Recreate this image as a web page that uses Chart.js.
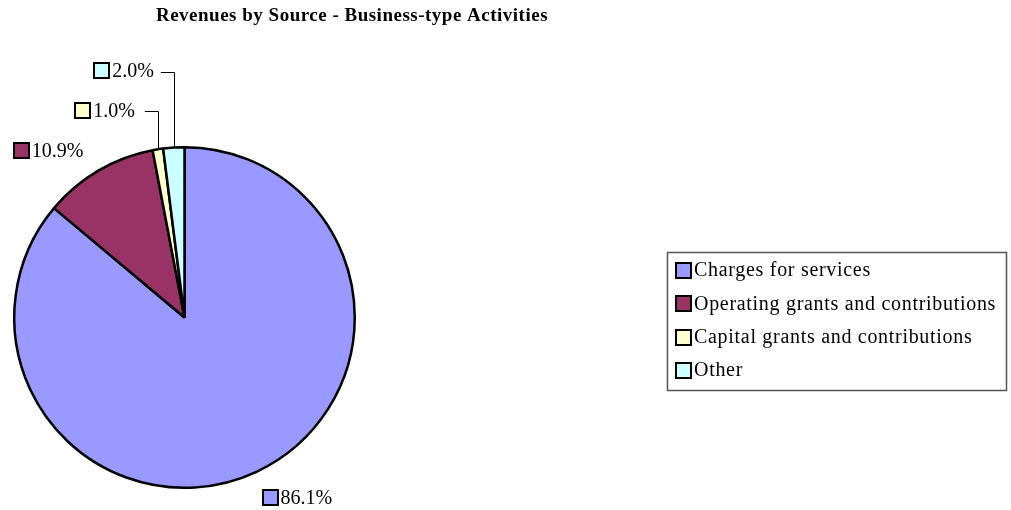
<!DOCTYPE html>
<html>
<head>
<meta charset="utf-8">
<script src="https://cdn.jsdelivr.net/npm/chart.js@4/dist/chart.umd.min.js"></script>
<style>
  body { margin: 0; background: #fff; }
  canvas { display: block; }
</style>
</head>
<body>
<canvas id="revChart" width="1011" height="510"></canvas>
<script>
// chart data
const categories = ['Charges for services', 'Operating grants and contributions', 'Capital grants and contributions', 'Other'];
const shares = [86.1, 10.9, 1.0, 2.0];
const sliceColors = ['#9999FF', '#993366', '#FFFFCC', '#CCFFFF'];
const chartTitle = 'Revenues by Source - Business-type Activities';

// where each percent label sits relative to the rim point of its slice
// side: which side of the anchor the label goes, leader: how far up the leader line runs
const labelLayout = [
    { side: 'right', dx: 6, dy: 26 },
    { side: 'left', dx: -15, dy: -20 },
    { side: 'left', leader: 38, run: 13, gap: 10 },
    { side: 'left', leader: 76, run: 13, gap: 7 }
];

const FONT = '"Liberation Serif", "Times New Roman", serif';

function drawSwatch(ctx, x, y, size, color) {
    ctx.fillStyle = color;
    ctx.fillRect(x, y, size, size);
    ctx.lineWidth = 2;
    ctx.strokeStyle = '#000';
    ctx.strokeRect(x, y, size, size);
}

const decorPlugin = {
    id: 'decor',
    afterDraw(chart) {
        const ctx = chart.ctx;
        ctx.save();

        // title
        ctx.font = 'bold 19px ' + FONT;
        ctx.letterSpacing = '0.5px';
        ctx.fillStyle = '#000';
        ctx.textAlign = 'center';
        ctx.textBaseline = 'middle';
        ctx.fillText(chartTitle, 352, 16);

        // percent labels
        ctx.font = '20px ' + FONT;
        ctx.letterSpacing = '0px';
        ctx.textBaseline = 'middle';
        ctx.textAlign = 'left';
        const arcs = chart.getDatasetMeta(0).data;
        arcs.forEach((arc, i) => {
            const p = arc.getProps(['x', 'y', 'startAngle', 'endAngle', 'outerRadius'], true);
            const mid = (p.startAngle + p.endAngle) / 2;
            const ex = p.x + Math.cos(mid) * p.outerRadius;
            const ey = p.y + Math.sin(mid) * p.outerRadius;
            const text = shares[i].toFixed(1) + '%';
            const box = 15;
            const w = box + 3 + ctx.measureText(text).width;
            const lay = labelLayout[i];
            let left, cy;
            if (lay.leader) {
                const topY = ey - lay.leader;
                const endX = ex - lay.run;
                ctx.strokeStyle = '#000';
                ctx.lineWidth = 1;
                ctx.beginPath();
                ctx.moveTo(Math.round(ex) + 0.5, ey);
                ctx.lineTo(Math.round(ex) + 0.5, Math.round(topY) + 0.5);
                ctx.lineTo(endX, Math.round(topY) + 0.5);
                ctx.stroke();
                left = endX - lay.gap - w;
                cy = topY - 1;
            } else if (lay.side === 'right') {
                left = ex + lay.dx;
                cy = ey + lay.dy;
            } else {
                left = ex + lay.dx - w;
                cy = ey + lay.dy;
            }
            drawSwatch(ctx, Math.round(left), Math.round(cy - box / 2), box, sliceColors[i]);
            ctx.fillStyle = '#000';
            ctx.fillText(text, left + box + 3, cy + 1);
        });

        // legend box
        const lx = 667, ly = 252, lw = 339, lh = 138;
        ctx.strokeStyle = '#555';
        ctx.lineWidth = 1.5;
        ctx.strokeRect(lx + 0.5, ly + 0.5, lw, lh);
        ctx.font = '20px ' + FONT;
        ctx.letterSpacing = '0.7px';
        categories.forEach((name, i) => {
            const cy = 270 + i * 33.4;
            drawSwatch(ctx, 676, Math.round(cy - 7), 15, sliceColors[i]);
            ctx.fillStyle = '#000';
            ctx.fillText(name, 694, cy + 1);
        });

        ctx.restore();
    }
};

const ctx = document.getElementById('revChart').getContext('2d');
const revChart = new Chart(ctx, {
    type: 'pie',
    data: {
        labels: categories,
        datasets: [{
            data: shares,
            backgroundColor: sliceColors,
            borderColor: '#000',
            borderWidth: 2.5
        }]
    },
    options: {
        responsive: false,
        animation: false,
        devicePixelRatio: 1,
        layout: {
            padding: { left: 13, top: 146, right: 655, bottom: 21 }
        },
        plugins: {
            legend: { display: false },
            tooltip: { enabled: false },
            title: { display: false }
        }
    },
    plugins: [decorPlugin]
});
</script>
</body>
</html>
